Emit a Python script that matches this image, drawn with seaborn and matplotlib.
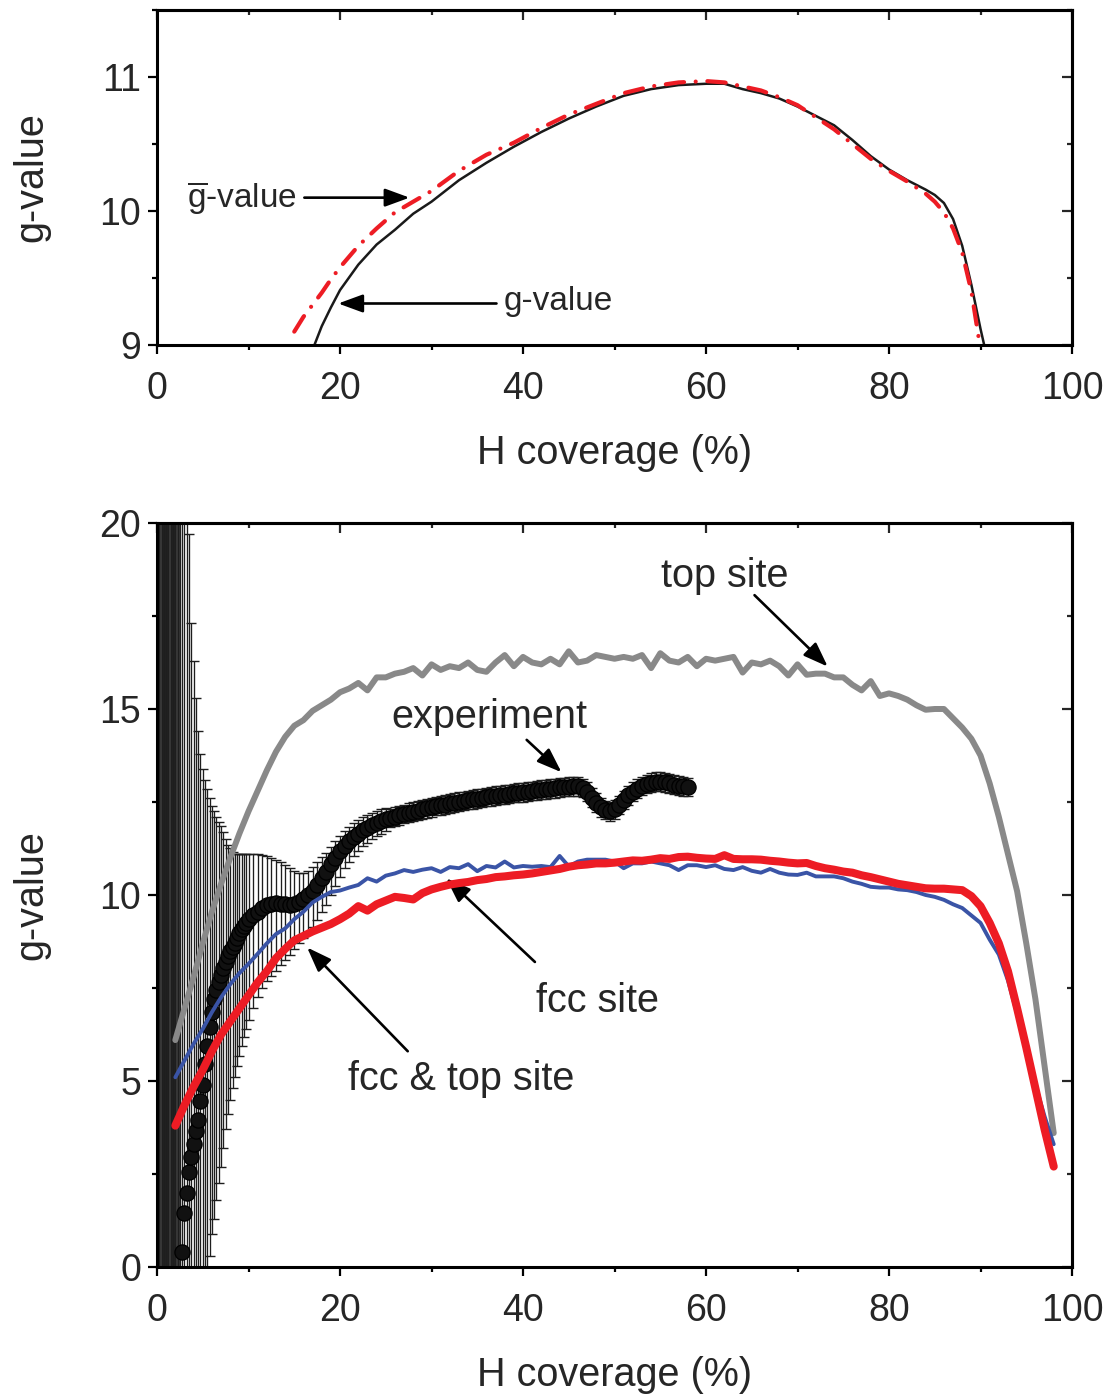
import numpy as np
import matplotlib
matplotlib.use('Agg')
import matplotlib.pyplot as plt
import seaborn as sns

# ------------------------------- DATA ----------------------------------
# top panel: g-value and averaged g-value vs H coverage
g_x = [17.2, 18, 19, 20, 22, 24, 26, 28, 30, 33, 36, 39, 42, 45, 48, 51, 54,
       57, 60, 62, 64, 66, 68, 70, 72, 74, 76, 78, 80, 82, 84, 85, 86, 87,
       88, 89, 90, 90.4]
g_val = [9.0, 9.14, 9.28, 9.41, 9.60, 9.75, 9.86, 9.98, 10.07, 10.23, 10.36,
         10.48, 10.59, 10.69, 10.78, 10.86, 10.91, 10.94, 10.95, 10.95, 10.91,
         10.88, 10.84, 10.78, 10.71, 10.64, 10.53, 10.41, 10.31, 10.23, 10.16,
         10.12, 10.06, 9.94, 9.74, 9.45, 9.12, 9.0]

gbar_x = [15.0, 16, 17, 18, 19, 20, 22, 24, 26, 28, 30, 33, 36, 39, 42, 45,
          48, 51, 54, 57, 60, 62, 64, 66, 68, 70, 72, 74, 76, 78, 80, 82, 84,
          85, 86, 87, 88, 89, 89.9]
gbar_val = [9.1, 9.21, 9.3, 9.39, 9.49, 9.58, 9.74, 9.87, 9.99, 10.07, 10.15,
            10.3, 10.42, 10.51, 10.62, 10.72, 10.8, 10.88, 10.93, 10.96, 10.97,
            10.96, 10.93, 10.9, 10.85, 10.79, 10.7, 10.61, 10.5, 10.39, 10.3,
            10.22, 10.13, 10.07, 9.99, 9.87, 9.69, 9.4, 9.01]

# bottom panel: simulations, one value per 1 % coverage from 2 to 98 %
sim_x = np.arange(2, 99)
top_site = [6.1, 6.95, 7.8, 8.7, 9.55, 10.3, 11.0, 11.65, 12.25, 12.8,
            13.35, 13.85, 14.25, 14.55, 14.7, 14.95, 15.1, 15.25, 15.45, 15.55,
            15.7, 15.5, 15.85, 15.85, 15.95, 16.0, 16.1, 15.9, 16.2, 16.05,
            16.15, 16.1, 16.25, 16.05, 16.0, 16.25, 16.45, 16.15, 16.4, 16.25,
            16.2, 16.35, 16.2, 16.55, 16.25, 16.3, 16.45, 16.4, 16.35, 16.4,
            16.35, 16.45, 16.1, 16.5, 16.3, 16.25, 16.4, 16.15, 16.35, 16.3,
            16.35, 16.4, 15.98, 16.25, 16.2, 16.3, 16.15, 15.9, 16.2, 15.92,
            15.95, 15.95, 15.85, 15.85, 15.65, 15.5, 15.75, 15.35, 15.42, 15.35,
            15.25, 15.1, 14.98, 15.0, 15.0, 14.75, 14.5, 14.2, 13.75, 13.0,
            12.1, 11.1, 10.1, 8.7, 7.2, 5.4, 3.6]
fcc_site = [5.1, 5.55, 6.0, 6.4, 6.85, 7.25, 7.6, 7.9, 8.15, 8.42,
            8.7, 8.95, 9.1, 9.35, 9.55, 9.8, 9.95, 10.08, 10.12, 10.2,
            10.27, 10.45, 10.36, 10.52, 10.58, 10.67, 10.62, 10.68, 10.72, 10.62,
            10.75, 10.72, 10.83, 10.64, 10.78, 10.74, 10.9, 10.74, 10.78, 10.76,
            10.78, 10.75, 11.05, 10.77, 10.9, 10.95, 10.95, 10.95, 10.9, 10.72,
            10.85, 10.85, 10.9, 10.85, 10.8, 10.67, 10.8, 10.8, 10.75, 10.8,
            10.7, 10.67, 10.75, 10.65, 10.6, 10.7, 10.6, 10.55, 10.54, 10.6,
            10.5, 10.5, 10.5, 10.45, 10.36, 10.3, 10.22, 10.2, 10.2, 10.15,
            10.13, 10.08, 10.0, 9.95, 9.87, 9.75, 9.65, 9.45, 9.25, 8.8,
            8.4, 7.7, 6.8, 5.85, 4.9, 4.05, 3.3]
fcc_top_site = [3.8, 4.35, 4.85, 5.3, 5.8, 6.25, 6.6, 6.95, 7.3, 7.65,
                7.95, 8.3, 8.55, 8.78, 8.9, 9.02, 9.12, 9.22, 9.35, 9.5,
                9.7, 9.58, 9.75, 9.85, 9.95, 9.92, 9.88, 10.05, 10.15, 10.22,
                10.28, 10.32, 10.35, 10.4, 10.43, 10.48, 10.5, 10.53, 10.55, 10.58,
                10.62, 10.66, 10.7, 10.76, 10.8, 10.82, 10.85, 10.85, 10.87, 10.9,
                10.93, 10.92, 10.95, 10.99, 10.97, 11.02, 11.03, 11.0, 10.98, 10.97,
                11.07, 10.97, 10.96, 10.96, 10.95, 10.92, 10.9, 10.87, 10.85, 10.86,
                10.78, 10.72, 10.68, 10.63, 10.6, 10.53, 10.48, 10.42, 10.36, 10.3,
                10.26, 10.22, 10.18, 10.17, 10.17, 10.15, 10.13, 9.97, 9.7, 9.25,
                8.7, 7.95, 6.95, 5.9, 4.8, 3.7, 2.7]

# bottom panel: experiment (0.25 % steps up to 10 %, then 0.5 % steps)
exp_x = np.r_[np.arange(0.25, 10.01, 0.25), np.arange(10.5, 58.01, 0.5)]
exp_g = [-11, -9.8, -8.6, -7.4, -6.3, -5.2, -4.2, -3.2, -2.2, -1.2,
         0.4, 1.45, 2.0, 2.55, 2.95, 3.3, 3.65, 3.95, 4.45, 4.9,
         5.45, 5.95, 6.45, 6.85, 7.2, 7.45, 7.65, 7.85, 8.05, 8.2,
         8.35, 8.5, 8.6, 8.72, 8.85, 8.97, 9.08, 9.17, 9.26, 9.35,
         9.45, 9.55, 9.65, 9.73, 9.77, 9.78, 9.77, 9.75, 9.74, 9.76,
         9.82, 9.9, 10.0, 10.12, 10.28, 10.45, 10.62, 10.82, 11.0, 11.17,
         11.32, 11.45, 11.56, 11.65, 11.74, 11.81, 11.88, 11.94, 11.99, 12.03,
         12.07, 12.11, 12.14, 12.18, 12.21, 12.24, 12.27, 12.3, 12.33, 12.36,
         12.39, 12.41, 12.43, 12.46, 12.48, 12.51, 12.53, 12.55, 12.57, 12.59,
         12.61, 12.63, 12.65, 12.67, 12.69, 12.7, 12.72, 12.74, 12.75, 12.76,
         12.78, 12.8, 12.81, 12.83, 12.84, 12.86, 12.87, 12.89, 12.9, 12.91,
         12.92, 12.92, 12.88, 12.78, 12.62, 12.48, 12.36, 12.28, 12.25, 12.3,
         12.42, 12.55, 12.68, 12.78, 12.86, 12.93, 12.98, 13.02, 13.05, 13.05,
         13.03, 13.0, 12.97, 12.94, 12.92, 12.9]
exp_err_up = ([40] * 13 +
              [17.15, 14.35, 13.0, 11.65, 10.45, 9.35, 8.5,
               7.65, 6.9, 6.15, 5.55, 5.05, 4.65, 4.3, 4.0, 3.65, 3.3,
               3.0, 2.75, 2.55, 2.38, 2.25, 2.13, 2.02, 1.93, 1.84, 1.75,
               1.65, 1.55, 1.43, 1.32, 1.23, 1.17, 1.11, 1.05, 0.98, 0.89,
               0.78, 0.7, 0.65, 0.62, 0.6, 0.56, 0.52, 0.48, 0.45, 0.42,
               0.4, 0.38, 0.37, 0.36, 0.35, 0.34, 0.33, 0.32, 0.31, 0.3] +
              [0.25] * 66)
exp_err_dn = ([40] * 13 +
              [17.15, 14.35, 13.0, 11.65, 10.45, 9.35, 8.5, 7.65, 6.9, 6.15,
               5.95, 5.9, 5.65, 5.4, 5.15, 4.85, 4.5,
               4.25, 4.0, 3.8, 3.62, 3.45, 3.3, 3.15, 3.0, 2.85, 2.7,
               2.5, 2.3, 2.15, 2.05, 1.95, 1.83, 1.65, 1.5, 1.35, 1.22,
               1.12, 1.05, 1.0, 0.97, 0.95, 0.92, 0.88, 0.82, 0.75, 0.68,
               0.6, 0.55, 0.5, 0.46, 0.43, 0.4, 0.38, 0.36, 0.34, 0.32] +
              [0.25] * 66)

# ------------------------------- STYLE ---------------------------------
sns.set_style('white')
plt.rcParams['font.family'] = ['Liberation Sans', 'DejaVu Sans']
plt.rcParams['mathtext.fontset'] = 'custom'
plt.rcParams['mathtext.rm'] = 'Liberation Sans'
plt.rcParams['mathtext.it'] = 'Liberation Sans:italic'

TICK_FS = 27
LABEL_FS = 28.5
MAJ, MIN = 6.5, 3.6
ARROW = dict(arrowstyle='-|>,head_length=0.6,head_width=0.22', color='k',
             lw=1.9, mutation_scale=25, shrinkA=0, shrinkB=0)


def style_axes(ax, ylim, ymajor, yminor):
    '''outward ticks on bottom/left, inward ticks on top/right (Origin look)'''
    xmajor = list(range(0, 101, 20))
    xminor = list(range(10, 100, 20))
    ax.set_xlim(0, 100)
    ax.set_ylim(*ylim)
    ax.set_xticks(xmajor)
    ax.set_xticks(xminor, minor=True)
    ax.set_yticks(ymajor)
    ax.set_yticks(yminor, minor=True)
    for s in ax.spines.values():
        s.set_linewidth(2.2)
        s.set_color('k')
    ax.tick_params(which='both', direction='out', width=1.6, color='k',
                   labelsize=TICK_FS, bottom=True, left=True,
                   top=False, right=False)
    ax.tick_params(which='major', length=MAJ)
    ax.tick_params(which='minor', length=MIN)
    ax.tick_params(axis='x', pad=12)
    ax.tick_params(axis='y', pad=5)

    sx = ax.secondary_xaxis('top')
    sx.set_xticks(xmajor)
    sx.set_xticks(xminor, minor=True)
    sx.tick_params(which='both', direction='in', width=1.6, top=True,
                   labeltop=False)
    sx.tick_params(which='major', length=MAJ + 1)
    sx.tick_params(which='minor', length=MIN)
    sx.spines['top'].set_linewidth(2.2)

    sy = ax.secondary_yaxis('right')
    sy.set_yticks(ymajor)
    sy.set_yticks(yminor, minor=True)
    sy.tick_params(which='both', direction='in', width=1.6, right=True,
                   labelright=False)
    sy.tick_params(which='major', length=MAJ + 1)
    sy.tick_params(which='minor', length=MIN)
    sy.spines['right'].set_linewidth(2.2)

    ax.set_xlabel('H coverage (%)', fontsize=LABEL_FS, labelpad=20)
    ax.set_ylabel('g-value', fontsize=LABEL_FS, labelpad=35)


fig = plt.figure(figsize=(11.16, 13.98), dpi=100)
ax1 = fig.add_axes([0.1407, 0.7532, 0.8199, 0.2396])
ax2 = fig.add_axes([0.1407, 0.0937, 0.8199, 0.5322])

# ------------------------------- TOP PANEL -----------------------------
sns.lineplot(x=g_x, y=g_val, ax=ax1, color='#1a1a1a', lw=1.8, zorder=2)
sns.lineplot(x=gbar_x, y=gbar_val, ax=ax1, color='#ed1c24', lw=3, zorder=3)
ax1.lines[-1].set_linestyle((0, (4.4, 2.8, 0.01, 2.8)))
ax1.lines[-1].set_dash_capstyle('round')

style_axes(ax1, (9, 11.5), [9, 10, 11], [9.5, 10.5, 11.5])

ax1.text(3.3, 10.03, r'$\overline{\mathrm{g}}$-value', fontsize=24,
         ha='left', va='baseline')
ax1.annotate('', xy=(27.6, 10.10), xytext=(16.1, 10.10), arrowprops=ARROW)
ax1.text(37.9, 9.26, 'g-value', fontsize=24, ha='left', va='baseline')
ax1.annotate('', xy=(19.8, 9.31), xytext=(37.1, 9.31), arrowprops=ARROW)

# ------------------------------- BOTTOM PANEL --------------------------
# the densest, off-scale bars near 0 % merge into a solid dark block
n_dense = 9
exp_err = np.array([exp_err_dn, exp_err_up])
ax2.errorbar(exp_x[:n_dense], exp_g[:n_dense], yerr=exp_err[:, :n_dense],
             fmt='none', ecolor='#1e1e1e', elinewidth=2.0, capsize=3.6,
             capthick=1.0, zorder=1)
ax2.errorbar(exp_x[n_dense:], exp_g[n_dense:], yerr=exp_err[:, n_dense:],
             fmt='none', ecolor='#1e1e1e', elinewidth=0.95, capsize=3.6,
             capthick=1.0, zorder=1)
sns.scatterplot(x=exp_x, y=exp_g, ax=ax2, s=120, color='#111111',
                edgecolor='#000000', linewidth=0.9, zorder=2, legend=False)

sns.lineplot(x=sim_x, y=top_site, ax=ax2, color='#898989', lw=4.3, zorder=3)
sns.lineplot(x=sim_x, y=fcc_site, ax=ax2, color='#3a54a6', lw=2.8, zorder=4)
sns.lineplot(x=sim_x, y=fcc_top_site, ax=ax2, color='#ed1c24', lw=5.8,
             zorder=5)

style_axes(ax2, (0, 20), [0, 5, 10, 15, 20], [2.5, 7.5, 12.5, 17.5])

ax2.text(62.0, 18.27, 'top site', fontsize=LABEL_FS, ha='center', va='baseline')
ax2.annotate('', xy=(73.3, 16.14), xytext=(65.3, 18.06), arrowprops=ARROW)
ax2.text(36.3, 14.5, 'experiment', fontsize=LABEL_FS, ha='center',
         va='baseline')
ax2.annotate('', xy=(44.2, 13.3), xytext=(40.4, 14.17), arrowprops=ARROW)
ax2.text(48.1, 6.85, 'fcc site', fontsize=LABEL_FS, ha='center',
         va='baseline')
ax2.annotate('', xy=(31.6, 10.45), xytext=(41.3, 8.2), arrowprops=ARROW)
ax2.text(33.2, 4.76, 'fcc & top site', fontsize=LABEL_FS, ha='center',
         va='baseline')
ax2.annotate('', xy=(16.4, 8.59), xytext=(27.4, 5.8), arrowprops=ARROW)

fig.savefig('out.png', dpi=100)
